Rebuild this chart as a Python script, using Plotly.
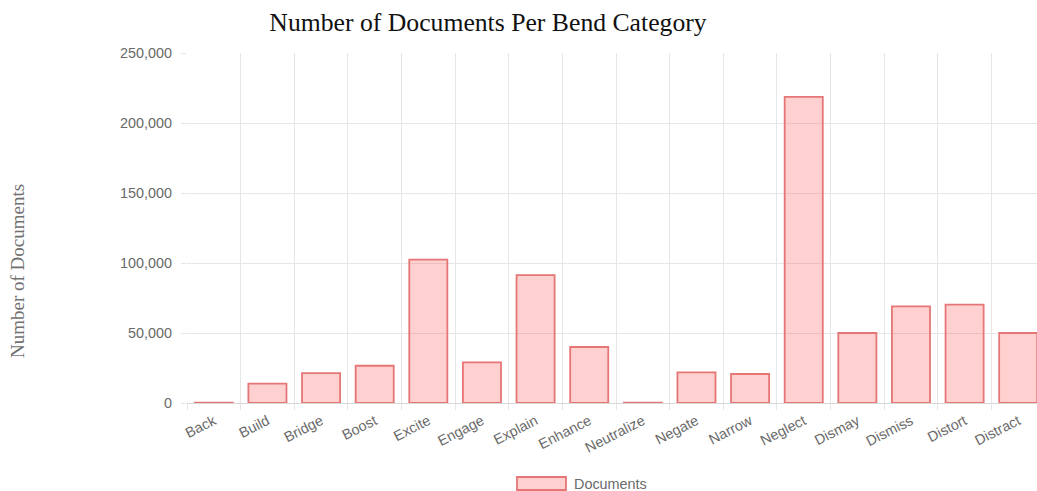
import plotly.graph_objects as go

categories = ["Back", "Build", "Bridge", "Boost", "Excite", "Engage", "Explain", "Enhance",
              "Neutralize", "Negate", "Narrow", "Neglect", "Dismay", "Dismiss", "Distort", "Distract"]
documents = [300, 13800, 21400, 26600, 102400, 29000, 91400, 40000,
             200, 21900, 20700, 218600, 50000, 69000, 70200, 50000]
series_name = "Documents"
title_text = "Number of Documents Per Bend Category"
y_title_text = "Number of Documents"

W, H = 1037, 491
L, R, T, B = 187, 0, 53, 88
plot_w = W - L - R
plot_h = H - T - B

def px_x(p):
    return (p - L) / plot_w

def px_y(p):
    return (H - B - p) / plot_h

fill = "rgba(255,100,100,0.30)"
border = "rgb(230,118,118)"
grid = "#e6e6e6"
tick_font = dict(family="Liberation Sans, Arial, sans-serif", size=14.4, color="#6a6a6a")

fig = go.Figure(go.Bar(
    x=categories, y=documents, name=series_name,
    marker=dict(color=fill, line=dict(color=border, width=1.8)),
    showlegend=False,
))

fig.update_layout(
    width=W, height=H,
    margin=dict(l=L, r=R, t=T, b=B, pad=0),
    paper_bgcolor="white", plot_bgcolor="white",
    bargap=0.29,
    title=dict(text=title_text, xref="container", yref="container",
               x=488 / W, y=1 - 22 / H, xanchor="center", yanchor="middle",
               font=dict(family="Liberation Serif, Times New Roman, serif", size=25.7, color="#111111")),
    xaxis=dict(
        type="category", range=[-0.5, 15.35], tickson="boundaries",
        showgrid=True, gridcolor=grid, gridwidth=1,
        ticks="outside", ticklen=6, tickcolor=grid,
        tickangle=-27, tickfont=tick_font, ticklabelstandoff=6,
        showline=False, zeroline=False,
    ),
    yaxis=dict(
        range=[0, 250000], dtick=50000, tickformat=",",
        showgrid=True, gridcolor=grid, gridwidth=1,
        ticks="outside", ticklen=5, tickcolor=grid,
        tickfont=tick_font, ticklabelstandoff=6,
        zeroline=True, zerolinecolor="#d8d8d8", zerolinewidth=1, showline=False,
    ),
    annotations=[
        dict(text=y_title_text, xref="paper", yref="paper", x=px_x(17), y=px_y(271),
             textangle=-90, showarrow=False, xanchor="center", yanchor="middle",
             font=dict(family="Liberation Serif, Times New Roman, serif", size=19, color="#707070")),
        dict(text=series_name, xref="paper", yref="paper", x=px_x(572), y=px_y(483.5),
             showarrow=False, xanchor="left", yanchor="middle", font=tick_font),
    ],
    shapes=[
        dict(type="rect", xref="paper", yref="paper",
             x0=px_x(517), x1=px_x(566), y0=px_y(477), y1=px_y(490),
             fillcolor=fill, line=dict(color=border, width=1.8)),
    ],
)

fig.write_html("out.html", config={"displayModeBar": False},
               post_script="document.body.style.margin='0';document.body.style.overflow='hidden';")
